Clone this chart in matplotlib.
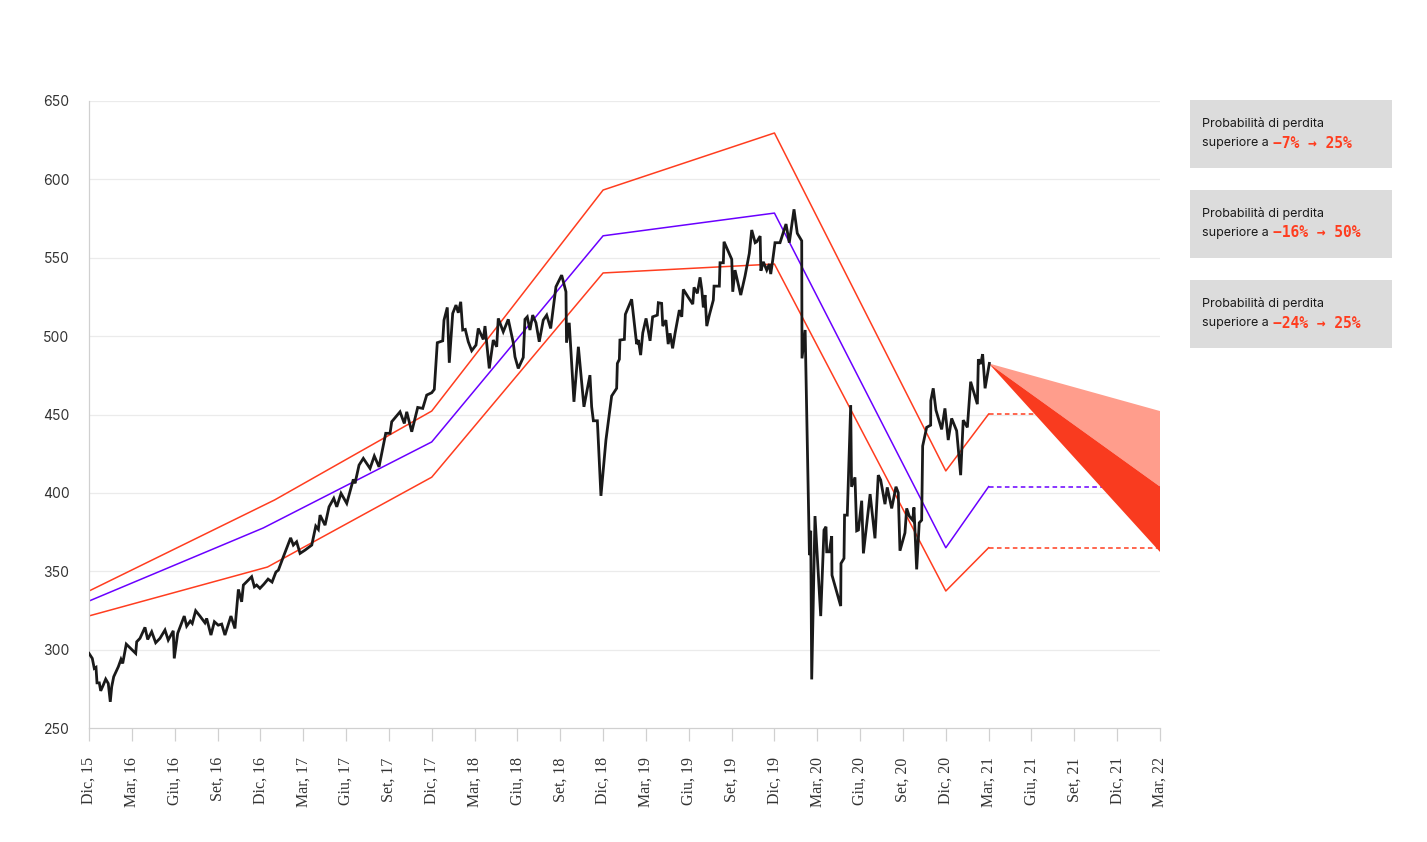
import matplotlib
matplotlib.use("Agg")
import matplotlib.pyplot as plt
from matplotlib.patches import Rectangle

# ---------------- data ----------------
# x positions expressed in months since Dec 2015
tick_labels = ["Dic, 15", "Mar, 16", "Giu, 16", "Set, 16", "Dic, 16", "Mar, 17", "Giu, 17",
               "Set, 17", "Dic, 17", "Mar, 18", "Giu, 18", "Set, 18", "Dic, 18", "Mar, 19",
               "Giu, 19", "Set, 19", "Dic, 19", "Mar, 20", "Giu, 20", "Set, 20", "Dic, 20",
               "Mar, 21", "Giu, 21", "Set, 21", "Dic, 21", "Mar, 22"]
tick_months = [3 * i for i in range(len(tick_labels))]
y_ticks = [250, 300, 350, 400, 450, 500, 550, 600, 650]

price_months = [0.00, 0.23, 0.37, 0.49, 0.56, 0.72, 0.82, 1.00, 1.17, 1.35, 1.49, 1.59, 1.73,
                2.05, 2.24, 2.36, 2.61, 2.87, 3.27, 3.34, 3.57, 3.92, 4.11, 4.39, 4.67, 4.97,
                5.32, 5.55, 5.90, 5.97, 6.21, 6.67, 6.84, 7.09, 7.23, 7.47, 7.77, 8.12, 8.24,
                8.54, 8.78, 9.05, 9.29, 9.52, 9.94, 10.22, 10.46, 10.69, 10.81, 11.39, 11.58,
                11.74, 11.97, 12.25, 12.54, 12.82, 13.09, 13.26, 13.61, 14.12, 14.31, 14.54,
                14.78, 15.13, 15.60, 15.88, 16.06, 16.18, 16.53, 16.81, 17.14, 17.35, 17.65,
                18.05, 18.51, 18.63, 18.91, 19.21, 19.68, 19.98, 20.31, 20.78, 21.08, 21.20,
                21.78, 22.08, 22.25, 22.60, 23.02, 23.37, 23.65, 24.00, 24.18, 24.39, 24.77,
                24.86, 25.09, 25.23, 25.47, 25.70, 25.86, 26.03, 26.17, 26.35, 26.56, 26.80,
                27.10, 27.26, 27.61, 27.73, 28.03, 28.31, 28.55, 28.66, 29.01, 29.36, 29.71,
                29.83, 30.06, 30.41, 30.53, 30.69, 30.88, 31.07, 31.30, 31.53, 31.81, 32.05,
                32.33, 32.70, 33.10, 33.40, 33.44, 33.63, 33.96, 34.27, 34.66, 35.08, 35.20,
                35.32, 35.60, 35.85, 36.20, 36.60, 36.95, 37.00, 37.14, 37.18, 37.49, 37.56,
                38.00, 38.35, 38.47, 38.63, 38.78, 39.01, 39.29, 39.47, 39.80, 39.87, 40.10,
                40.18, 40.40, 40.56, 40.69, 40.87, 41.04, 41.34, 41.51, 41.62, 41.97, 42.28,
                42.37, 42.60, 42.79, 42.91, 43.02, 43.14, 43.26, 43.44, 43.72, 43.77, 44.14,
                44.19, 44.42, 44.47, 45.01, 45.08, 45.24, 45.64, 45.94, 46.24, 46.41, 46.65,
                46.76, 47.00, 47.05, 47.22, 47.46, 47.64, 47.74, 47.88, 48.04, 48.39, 48.81,
                49.04, 49.37, 49.60, 49.91, 49.93, 50.15, 50.45, 50.54, 50.61, 50.84, 51.24,
                51.47, 51.61, 51.66, 51.84, 52.01, 52.03, 52.64, 52.66, 52.87, 52.91, 53.10,
                53.34, 53.40, 53.64, 53.76, 53.88, 54.11, 54.23, 54.70, 55.04, 55.27, 55.44,
                55.74, 55.90, 56.21, 56.51, 56.67, 56.79, 57.14, 57.26, 57.44, 57.68, 57.77,
                57.96, 58.14, 58.31, 58.38, 58.66, 58.94, 58.95, 59.12, 59.31, 59.71, 59.94,
                60.17, 60.41, 60.76, 61.04, 61.22, 61.51, 61.74, 62.21, 62.28, 62.44, 62.58,
                62.75, 63.05]
price_values = [297.6, 294.4, 288.0, 288.7, 278.8, 278.8, 273.7, 277.4, 281.2, 278.4, 266.7,
                276.3, 282.7, 289.0, 293.8, 291.2, 303.5, 301.2, 297.6, 305.0, 307.2, 314.2,
                306.5, 311.4, 304.4, 307.2, 312.5, 306.1, 312.0, 294.4, 310.4, 321.4, 315.0,
                318.2, 316.7, 324.8, 321.4, 317.1, 319.9, 309.3, 317.8, 315.6, 316.3, 309.3,
                321.4, 313.5, 338.4, 330.5, 341.2, 346.5, 340.1, 341.2, 339.1, 341.8, 345.0,
                343.1, 349.5, 350.7, 359.2, 371.3, 366.7, 368.8, 361.4, 363.5, 366.7, 378.8,
                376.7, 385.8, 379.4, 391.1, 396.5, 391.1, 399.7, 393.3, 408.6, 406.1, 417.7,
                422.0, 415.6, 423.5, 416.6, 438.0, 438.0, 445.4, 451.7, 444.3, 451.7, 439.0,
                454.5, 453.9, 462.4, 463.9, 466.0, 495.8, 497.0, 510.2, 518.3, 483.0, 514.5,
                519.8, 514.9, 521.9, 503.9, 504.3, 496.4, 490.7, 494.3, 504.9, 497.9, 506.4,
                479.4, 497.5, 493.2, 511.3, 502.8, 510.7, 495.8, 486.8, 479.4, 486.4, 510.7,
                512.3, 503.9, 513.4, 508.5, 496.4, 510.2, 513.4, 504.9, 531.5, 538.9, 528.3,
                495.8, 508.5, 458.1, 493.2, 454.9, 475.1, 454.9, 446.0, 446.0, 398.1, 433.7,
                461.8, 466.7, 482.6, 485.2, 497.5, 497.9, 513.9, 523.5, 494.9, 497.5, 487.9,
                502.1, 511.3, 497.0, 512.3, 513.4, 521.3, 520.9, 506.4, 510.2, 494.9, 501.8,
                492.2, 501.8, 516.6, 512.3, 529.8, 524.7, 520.4, 531.1, 527.3, 537.5, 529.8,
                518.3, 526.2, 506.4, 513.4, 523.0, 531.9, 531.9, 546.8, 546.8, 560.2, 549.0,
                528.3, 542.1, 526.2, 538.3, 552.8, 567.7, 559.6, 560.2, 563.8, 541.7, 547.4,
                542.1, 546.0, 539.6, 548.5, 559.6, 559.6, 571.5, 559.6, 580.9, 565.6, 560.8,
                485.8, 503.9, 360.3, 375.8, 281.0, 385.2, 321.4, 376.3, 378.4, 362.4, 362.4,
                372.4, 347.5, 327.8, 355.0, 358.2, 385.8, 385.8, 456.0, 403.9, 409.9, 375.8,
                376.3, 395.0, 361.4, 399.2, 371.0, 411.3, 408.2, 392.8, 403.5, 390.1, 403.9,
                400.1, 363.1, 374.5, 390.1, 385.2, 382.6, 390.7, 351.2, 380.9, 382.6, 429.9,
                441.8, 443.2, 458.8, 466.7, 452.8, 440.5, 453.9, 433.7, 447.5, 439.6, 411.3,
                446.4, 441.8, 470.9, 456.6, 485.2, 482.2, 488.5, 466.7, 482.6]

upper_months = [0, 13, 24, 36, 48, 60, 63]
upper_values = [337.4, 395.5, 452.2, 593.2, 629.6, 414.0, 450.3]
mid_months = [0, 12.2, 24, 36, 48, 60, 63]
mid_values = [331.0, 377.6, 432.5, 564.0, 578.5, 365.0, 404.0]
lower_months = [0, 12.5, 24, 36, 48, 60, 63]
lower_values = [321.5, 352.7, 410.0, 540.3, 546.0, 337.4, 365.0]

proj_months = [63, 75]
fan_apex = 482.6
fan_ends = [452.2, 404.0, 362.3]   # top of light area, light/dark border, bottom of dark area

legend_highlights = ["−7% → 25%", "−16% → 50%", "−24% → 25%"]

# ---------------- style ----------------
RED = "#FF3D1F"
PURPLE = "#6A00FF"
LIGHT_FAN = "#FF9D8C"
DARK_FAN = "#F93B1F"
GRID = "#EBEBEB"
SPINE = "#D0D0D0"

W, H = 1427, 842
fig = plt.figure(figsize=(W / 100, H / 100), dpi=100)
ax = fig.add_axes([89 / W, 1 - 728 / H, (1160 - 89) / W, (728 - 101) / H])

ax.set_xlim(0, 75)
ax.set_ylim(250, 650)

for yv in y_ticks[1:]:
    ax.axhline(yv, color=GRID, lw=0.9, zorder=0)

# bands
ax.plot(upper_months, upper_values, color=RED, lw=1.1, zorder=2)
ax.plot(mid_months, mid_values, color=PURPLE, lw=1.1, zorder=2)
ax.plot(lower_months, lower_values, color=RED, lw=1.1, zorder=2)
ax.plot(proj_months, [upper_values[-1]] * 2, color=RED, lw=1.1, ls=(0, (3, 2.2)), zorder=2)
ax.plot(proj_months, [mid_values[-1]] * 2, color=PURPLE, lw=1.1, ls=(0, (3, 2.2)), zorder=2)
ax.plot(proj_months, [lower_values[-1]] * 2, color=RED, lw=1.1, ls=(0, (3, 2.2)), zorder=2)

# fan
ax.fill([proj_months[0], proj_months[1], proj_months[1]],
        [fan_apex, fan_ends[0], fan_ends[1]], color=LIGHT_FAN, lw=0, zorder=3)
ax.fill([proj_months[0], proj_months[1], proj_months[1]],
        [fan_apex, fan_ends[1], fan_ends[2]], color=DARK_FAN, lw=0, zorder=3)

# price
ax.plot(price_months, price_values, color="#1A1A1A", lw=2.0, zorder=4,
        solid_joinstyle="miter")

# axes styling
for s in ["top", "right"]:
    ax.spines[s].set_visible(False)
ax.spines["left"].set_color(SPINE)
ax.spines["bottom"].set_color(SPINE)
ax.spines["left"].set_linewidth(0.9)
ax.spines["bottom"].set_linewidth(0.9)

ax.set_yticks(y_ticks)
ax.set_yticklabels([str(v) for v in y_ticks], fontfamily="Inter", fontsize=10, color="#333333")
ax.tick_params(axis="y", length=0, pad=14)

ax.set_xticks(tick_months)
ax.set_xticklabels(tick_labels, rotation=90, fontfamily="Liberation Serif", fontsize=11.5,
                   color="#333333", va="top", ha="center")
ax.tick_params(axis="x", length=9, color=SPINE, width=0.9, pad=12)

# legend boxes
box_tops = [100, 190, 280]
second_lines = []
for top in box_tops:
    fig.patches.append(Rectangle((1190 / W, 1 - (top + 68) / H), 202 / W, 68 / H,
                                 transform=fig.transFigure, facecolor="#DCDCDC",
                                 edgecolor="none"))
    fig.text(1202 / W, 1 - (top + 24) / H, "Probabilità di perdita", fontfamily="Inter",
             fontsize=9, color="#1A1A1A", va="center", ha="left")
    t2 = fig.text(1202 / W, 1 - (top + 43) / H, "superiore a", fontfamily="Inter",
                  fontsize=9, color="#1A1A1A", va="center", ha="left")
    second_lines.append((top, t2))

fig.canvas.draw()
renderer = fig.canvas.get_renderer()
for (top, t2), hl in zip(second_lines, legend_highlights):
    bb = t2.get_window_extent(renderer)
    fig.text((bb.x1 + 4) / W, 1 - (top + 43) / H, hl, fontfamily="DejaVu Sans Mono",
             fontsize=10.5, fontweight="bold", color=RED, va="center", ha="left")

fig.savefig("out.png", dpi=100)
